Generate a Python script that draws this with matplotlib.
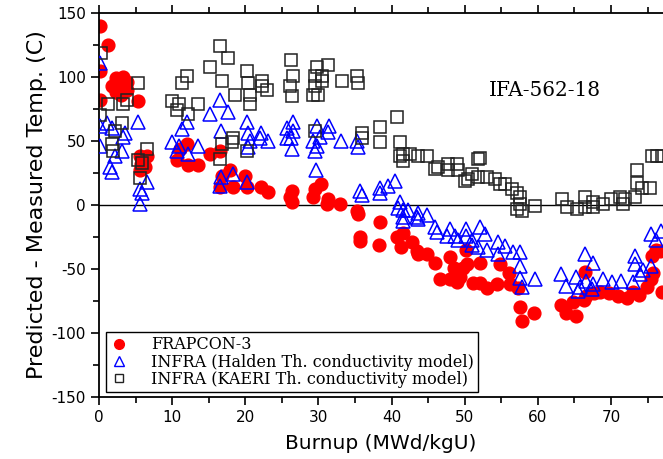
import matplotlib
matplotlib.use("Agg")
import matplotlib.pyplot as plt
from matplotlib.ticker import MultipleLocator
from matplotlib.lines import Line2D

plt.rcParams['axes.unicode_minus'] = False

# FRAPCON-3 (red circles)
frap_x = [0.1, 0.1, 0.1, 1.2, 1.8, 2.3, 2.8, 3.3, 3.8, 2.3, 3.0, 3.8, 5.3,
          5.6, 6.5, 5.8, 6.3, 5.6, 10.7, 12.0, 11.1, 12.2, 13.5, 15.2, 16.5,
          16.8, 17.9, 18.3, 16.5, 20.0, 20.2, 22.2, 23.1, 26.4, 26.1, 26.4,
          29.5, 30.4, 29.3, 31.3, 31.2, 33.0, 35.3, 35.4, 38.4, 35.7, 35.7,
          38.3, 40.7, 41.5, 41.3, 42.8, 43.5, 43.6, 44.8, 46.0, 48.0, 46.6,
          48.0, 49.0, 48.5, 49.8, 50.3, 49.4, 49.0, 51.1, 52.1, 53.0, 54.4,
          50.2, 52.1, 54.8, 56.2, 56.0, 57.3, 57.6, 57.8, 59.5, 63.1, 63.9,
          65.2, 64.8, 66.3, 66.6, 66.5, 67.6, 68.5, 69.7, 71.0, 72.2, 73.0,
          73.8, 74.9, 75.4, 75.8, 75.6, 76.1, 76.7, 76.9]
frap_y = [140, 105, 82, 125, 93, 99, 95, 100, 96, 88, 86, 90, 81,
          38, 38, 32, 30, 27, 35, 48, 44, 31, 31, 40, 42,
          23, 27, 14, 14, 23, 14, 14, 10, 11, 6, 2,
          12.6, 16.5, 6, 5, 1, 1, -4.5, -7, -13, -25, -28,
          -31, -25, -22, -33, -29, -36, -38.5, -38.5, -45, -41, -58,
          -58, -54, -49, -49, -46, -56, -60, -61, -61, -64.5, -62,
          -35, -45, -46, -62, -53, -65, -80, -91, -84, -78, -84,
          -87, -76, -74, -71, -52, -69, -68, -69, -71, -73, -68,
          -70, -64, -58, -53, -40, -35, -36, -68]

# INFRA (Halden Th. conductivity model) (blue triangles)
hal_x = [0.1, 0.1, 1.1, 1.8, 0.1, 3.6, 3.3, 3.1, 2.2, 1.5, 1.8, 5.3, 6.6,
         5.6, 5.9, 5.6, 10.0, 11.0, 12.2, 13.5, 10.7, 11.4, 12.0, 15.2,
         16.5, 17.6, 16.7, 16.7, 16.6, 18.3, 20.2, 20.2, 20.4, 22.2, 23.1,
         20.6, 20.4, 22.0, 25.7, 25.7, 26.5, 26.5, 26.2, 26.4, 29.6, 29.8,
         31.4, 31.3, 30.2, 29.3, 29.8, 29.5, 33.1, 35.3, 35.4, 35.7, 36.0,
         38.4, 38.4, 39.5, 40.5, 41.2, 40.9, 41.6, 42.3, 43.6, 44.8, 41.6,
         41.6, 43.5, 43.6, 46.0, 46.2, 47.6, 48.0, 48.7, 49.1, 50.2, 50.2,
         51.0, 51.0, 51.8, 52.1, 52.8, 53.0, 54.6, 55.5, 54.6, 56.6, 57.5,
         57.6, 57.6, 57.8, 59.6, 63.2, 63.9, 65.2, 65.5, 65.8, 66.5, 67.5,
         66.6, 67.5, 68.9, 70.1, 71.4, 73.0, 73.3, 73.3, 74.4, 74.0, 75.5,
         75.4, 76.2, 76.8, 67.4]
hal_y = [111, 62, 64, 60, 46, 56, 53, 42, 38, 30, 26, 65, 18,
         12.6, 9, 1, 49, 46, 40, 46, 42, 59, 65, 71,
         82, 73, 58, 22, 15, 24, 18, 65, 56, 56, 50,
         50, 45, 52, 60, 52, 65, 58, 52, 44, 27, 62,
         62, 57, 53, 50, 46, 42, 50, 50, 45, 11, 8,
         13, 9, 15, 19, 2, -2, -4, -4, -6, -8, -9.4,
         -12.6, -9, -11, -17, -21, -24, -19, -24, -27, -19, -24,
         -27, -31, -33, -17, -23, -35, -29, -32, -38, -37, -37,
         -48, -57, -64, -58, -54, -63, -56, -67, -64, -38, -45,
         -59, -62, -58, -60.5, -59, -60, -40, -46, -51, -54, -48,
         -23, -27, -20, -66]

# INFRA (KAERI Th. conductivity model) (black squares)
kae_x = [0.3, 0.1, 1.2, 3.3, 3.8, 5.3, 3.1, 2.2, 1.8, 1.9, 6.6, 5.9, 5.3,
         5.6, 10.0, 11.0, 10.7, 12.2, 13.5, 11.4, 12.0, 15.2, 16.5, 17.6,
         16.8, 18.6, 20.2, 20.4, 20.6, 20.6, 22.3, 22.3, 23.0, 16.8, 18.3,
         18.2, 20.2, 16.5, 26.3, 26.5, 26.1, 26.4, 29.8, 29.5, 30.5, 30.5,
         31.3, 29.5, 29.3, 29.9, 33.2, 35.3, 35.4, 29.5, 36.0, 36.0, 38.4,
         38.4, 40.7, 41.2, 41.6, 41.6, 42.5, 43.6, 44.8, 41.2, 46.0, 46.4,
         47.7, 47.7, 49.0, 49.1, 50.0, 51.0, 51.8, 51.8, 50.5, 53.0, 54.2,
         54.8, 55.5, 56.5, 57.1, 57.6, 57.6, 57.8, 57.1, 59.6, 63.3, 64.0,
         65.3, 66.5, 66.5, 67.5, 67.5, 68.9, 70.0, 71.2, 71.6, 71.9, 73.3,
         73.5, 73.5, 74.2, 75.3, 75.6, 76.3, 77.0, 52.1]
kae_y = [119, 70, 79, 79, 82, 95, 64, 58, 48, 42, 44, 33, 35,
         21, 81, 79, 74, 71, 79, 95, 101, 108, 124, 115,
         97, 86, 105, 95, 86, 79, 97, 93, 90, 48, 52,
         49, 42, 36, 113, 101, 93, 85, 108, 101, 101, 97,
         109, 93, 86, 86, 97, 101, 95, 58, 56, 52, 61,
         49.5, 69, 49.5, 40, 34, 40, 38.5, 38.5, 38, 28, 30,
         32, 27, 32, 27, 19, 24, 36, 22, 20, 22, 20,
         16.5, 16.5, 12.6, 9, 6, 1, -4.5, -3, -1, 5, -1.5,
         -3, 6, -1.5, -1.5, 2, 1, 5, 6, 1, 5, 6,
         27, 17, 13, 13, 38, 38, 38, 37]

labels = ['FRAPCON-3',
          'INFRA (Halden Th. conductivity model)',
          'INFRA (KAERI Th. conductivity model)']

fig = plt.figure(figsize=(6.63, 4.59), dpi=100)
ax = fig.add_axes([99/663, 62/459, (663-99)/663, (397-13)/459])

ax.axhline(0, color='black', lw=1.0, zorder=1)

ax.plot(frap_x, frap_y, 'o', ls='none', color='#ff0000', ms=9.2, mec='#ff0000', zorder=2)
ax.plot(hal_x, hal_y, '^', ls='none', mfc='none', mec='#0000ff', ms=10.5, mew=1.1, zorder=3)
ax.plot(kae_x, kae_y, 's', ls='none', mfc='none', mec='#222222', ms=9.0, mew=1.1, zorder=4)

ax.set_xlim(0, 77.1)
ax.set_ylim(-150, 150)
ax.xaxis.set_major_locator(MultipleLocator(10))
ax.xaxis.set_minor_locator(MultipleLocator(5))
ax.yaxis.set_major_locator(MultipleLocator(50))
ax.yaxis.set_minor_locator(MultipleLocator(25))
ax.tick_params(which='major', direction='out', length=6, width=1.2, labelsize=11)
ax.tick_params(which='minor', direction='out', length=4, width=1.2)
ax.tick_params(axis='x', which='both', top=True, labeltop=False)

for s in ['left', 'bottom', 'top']:
    ax.spines[s].set_linewidth(1.3)
ax.spines['right'].set_visible(False)

ax.set_xlabel('Burnup (MWd/kgU)', fontsize=14.5, labelpad=6)
ax.set_ylabel('Predicted - Measured Temp. (C)', fontsize=16, labelpad=3)

ax.text(61, 89.5, 'IFA-562-18', ha='center', va='center', fontsize=14.4,
        family='DejaVu Serif')

handles = [
    Line2D([], [], marker='o', ls='none', color='#ff0000', ms=7),
    Line2D([], [], marker='^', ls='none', mfc='none', mec='#0000ff', ms=7, mew=1),
    Line2D([], [], marker='s', ls='none', mfc='none', mec='#222222', ms=6, mew=1),
]
leg = ax.legend(handles, labels, loc='lower left', bbox_to_anchor=(0.012, 0.013),
                borderaxespad=0, prop={'family': 'DejaVu Serif', 'size': 11.5},
                frameon=True, fancybox=False, edgecolor='black', framealpha=1,
                handlelength=1.2, handletextpad=1.4, labelspacing=0.02,
                borderpad=0.25)
leg.get_frame().set_linewidth(1.0)

fig.savefig('out.png', dpi=100)
